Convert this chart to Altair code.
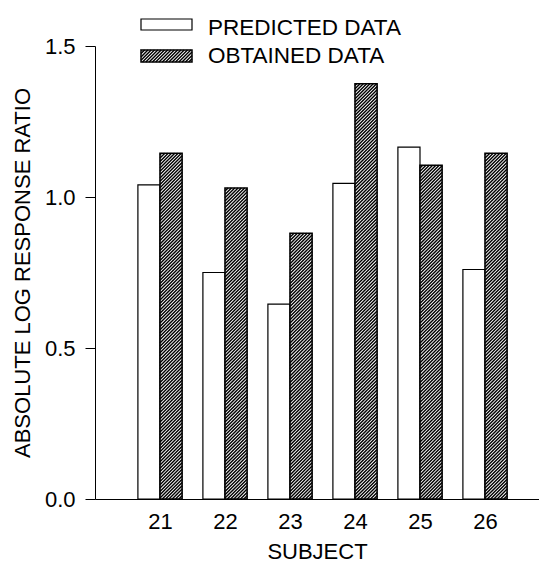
import altair as alt
import pandas as pd

# ---- data ----
subjects = [21, 22, 23, 24, 25, 26]
predicted = [1.04, 0.75, 0.645, 1.045, 1.165, 0.76]
obtained = [1.145, 1.03, 0.88, 1.375, 1.105, 1.145]
y_ticks = [0.0, 0.5, 1.0, 1.5]
legend_labels = ["PREDICTED DATA", "OBTAINED DATA"]

# ---- layout ----
W, H = 444, 453
XMIN, XMAX = 20, 20 + 444 / 65
YMAX = 1.5
BW = 0.34
kx = W / (XMAX - XMIN)
ky = H / YMAX
FONT = "Liberation Sans"
PERIOD = 3.3

df = pd.DataFrame({"subject": subjects, "predicted": predicted, "obtained": obtained})
df["p0"] = df["subject"] - BW
df["o1"] = df["subject"] + BW


def hatch(L, R, B, T, period=PERIOD):
    """45-degree '/' hatch segments clipped to a rectangle (pixel units, y up)."""
    segs = []
    c = B - R
    while c <= T - L:
        xa = max(L, B - c)
        xb = min(R, T - c)
        if xb > xa:
            segs.append((xa, xa + c, xb, xb + c))
        c += period
    return segs


rows = []
for s, v in zip(subjects, obtained):
    L = (s - XMIN) * kx
    R = (s + BW - XMIN) * kx
    for xa, ya, xb, yb in hatch(L, R, 0, v * ky):
        rows.append({"x": XMIN + xa / kx, "y": ya / ky, "x2": XMIN + xb / kx, "y2": yb / ky})

# legend swatch hatch (pixel box converted to data units)
LBX0, LBX1 = 46, 97
LB2Y0, LB2Y1 = 4, 16
for xa, ya, xb, yb in hatch(LBX0, LBX1, H - LB2Y1, H - LB2Y0):
    rows.append({"x": XMIN + xa / kx, "y": ya / ky, "x2": XMIN + xb / kx, "y2": yb / ky})
hatch_df = pd.DataFrame(rows)

xscale = alt.Scale(domain=[XMIN, XMAX], nice=False, zero=False)
yscale = alt.Scale(domain=[0, YMAX], nice=False)

xaxis = alt.Axis(
    values=subjects, format="d", ticks=False, grid=False,
    labelFontSize=22, labelFont=FONT, labelColor="black", labelPadding=12, labelFlush=False,
    title="SUBJECT", titleFontSize=22, titleFont=FONT, titleFontWeight="normal",
    titleColor="black", titleY=59, titleBaseline="alphabetic",
    domainColor="black", domainWidth=1,
)
yaxis = alt.Axis(
    values=y_ticks, format=".1f", grid=False, tickSize=10, tickColor="black", tickWidth=1,
    labelFontSize=22, labelFont=FONT, labelColor="black", labelPadding=10,
    title="ABSOLUTE LOG RESPONSE RATIO", titleFontSize=22, titleFont=FONT,
    titleFontWeight="normal", titleColor="black", titleX=-73, titleY=H / 2,
    titleAngle=270, titleAlign="center", titleBaseline="middle",
    domainColor="black", domainWidth=1,
)

base = alt.Chart(df)

pred_bars = base.mark_rect(fill="white", stroke="black", strokeWidth=1.2).encode(
    x=alt.X("p0:Q", scale=xscale, axis=xaxis),
    x2="subject:Q",
    y=alt.Y("predicted:Q", scale=yscale, axis=yaxis),
    y2=alt.datum(0),
)
obt_fill = base.mark_rect(fill="white").encode(
    x=alt.X("subject:Q", scale=xscale), x2="o1:Q",
    y=alt.Y("obtained:Q", scale=yscale), y2=alt.datum(0),
)
hatch_lines = alt.Chart(hatch_df).mark_rule(color="black", strokeWidth=1.45).encode(
    x=alt.X("x:Q", scale=xscale), x2="x2:Q",
    y=alt.Y("y:Q", scale=yscale), y2="y2:Q",
)
obt_outline = base.mark_rect(fill=None, fillOpacity=0, stroke="black", strokeWidth=1.6).encode(
    x=alt.X("subject:Q", scale=xscale), x2="o1:Q",
    y=alt.Y("obtained:Q", scale=yscale), y2=alt.datum(0),
)

leg_df = pd.DataFrame({"label": [legend_labels[0]]})
leg_box1 = alt.Chart(leg_df).mark_rect(fill="white", stroke="black", strokeWidth=1.2).encode(
    x=alt.value(LBX0), x2=alt.value(LBX1), y=alt.value(-27), y2=alt.value(-16)
)
leg_box2 = alt.Chart(leg_df).mark_rect(fill=None, fillOpacity=0, stroke="black", strokeWidth=1.5).encode(
    x=alt.value(LBX0), x2=alt.value(LBX1), y=alt.value(LB2Y0), y2=alt.value(LB2Y1)
)
leg_txt1 = alt.Chart(leg_df).mark_text(
    text=legend_labels[0], font=FONT, fontSize=22.5, align="left", baseline="alphabetic", color="black"
).encode(x=alt.value(113), y=alt.value(-11))
leg_txt2 = alt.Chart(leg_df).mark_text(
    text=legend_labels[1], font=FONT, fontSize=22.5, align="left", baseline="alphabetic", color="black"
).encode(x=alt.value(113), y=alt.value(17))

chart = alt.layer(
    pred_bars, obt_fill, hatch_lines, obt_outline,
    leg_box1, leg_box2, leg_txt1, leg_txt2,
).properties(
    width=W, height=H,
    autosize=alt.AutoSizeParams(type="none"),
    padding={"left": 87, "top": 38, "right": 0, "bottom": 65},
    background="white",
).configure_view(stroke=None)

chart.save("out.html", embed_options={"renderer": "svg", "actions": False})
